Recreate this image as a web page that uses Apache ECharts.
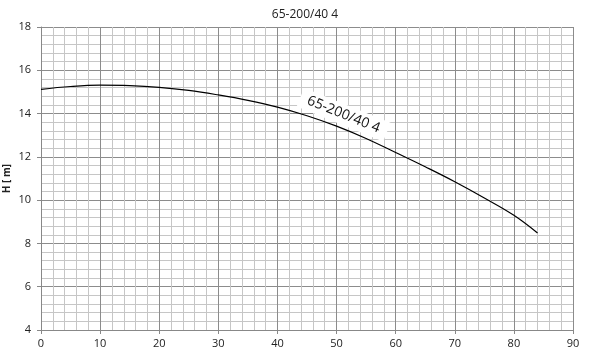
<!DOCTYPE html>
<html><head><meta charset="utf-8">
<script src="https://cdn.jsdelivr.net/npm/echarts@6/dist/echarts.min.js"></script>
<style>html,body{margin:0;padding:0;background:#fff}#c{width:591px;height:363px}</style>
</head><body><div id="c"></div>
<script>
var flowQ = [0, 5, 10, 15, 20, 25, 30, 35, 40, 45, 50, 55, 60, 65, 70, 75, 80, 84];
var headH = [15.12, 15.25, 15.31, 15.29, 15.21, 15.07, 14.86, 14.61, 14.3, 13.9, 13.42, 12.85, 12.2, 11.54, 10.85, 10.1, 9.3, 8.48];
var curveName = '65-200/40 4';
var titleText = '65-200/40 4';
var labelAt = [51.2, 13.95];

var ff = '"Open Sans", "Liberation Sans", sans-serif';
var chart = echarts.init(document.getElementById('c'), null, {renderer: 'canvas'});
chart.setOption({
  animation: false,
  title: {text: titleText, left: 300, top: 4, textAlign: 'center',
    textStyle: {fontFamily: ff, fontSize: 12, fontWeight: 'normal', color: '#222'}},
  grid: {left: 41, right: 18, top: 27, bottom: 33, containLabel: false, outerBoundsMode: 'none'},
  xAxis: {type: 'value', min: 0, max: 90, interval: 10,
    axisLine: {onZero: false, lineStyle: {color: '#888'}},
    axisTick: {show: true, length: 4, lineStyle: {color: '#888'}},
    axisLabel: {fontFamily: ff, fontSize: 11, color: '#222', margin: 8},
    splitLine: {show: true, lineStyle: {color: '#8c8c8c', width: 1}},
    minorTick: {show: false, splitNumber: 5},
    minorSplitLine: {show: true, lineStyle: {color: '#c6c6c6', width: 1}}
  },
  yAxis: {type: 'value', min: 4, max: 18, interval: 2,
    name: 'H [ m]', nameLocation: 'middle', nameGap: 29, nameMoveOverlap: false,
    nameTextStyle: {fontFamily: ff, fontSize: 10, fontWeight: 'bold', color: '#222'},
    axisLine: {show: true, lineStyle: {color: '#888'}},
    axisTick: {show: true, length: 4, lineStyle: {color: '#888'}},
    axisLabel: {fontFamily: ff, fontSize: 11, color: '#222', margin: 10},
    splitLine: {show: true, lineStyle: {color: '#8c8c8c', width: 1}},
    minorTick: {show: false, splitNumber: 5},
    minorSplitLine: {show: true, lineStyle: {color: '#c6c6c6', width: 1}}
  },
  series: [{
    type: 'line', name: curveName, smooth: 0.4, symbol: 'none',
    lineStyle: {color: '#000', width: 1.2},
    data: flowQ.map(function (q, i) { return [q, headH[i]]; }),
    markPoint: {
      symbol: 'rect', symbolSize: 1, itemStyle: {color: 'rgba(0,0,0,0)'},
      data: [{coord: labelAt, value: curveName}],
      label: {show: true, position: 'inside', formatter: curveName, rotate: -22,
        fontFamily: ff, fontSize: 14, color: '#111', backgroundColor: '#fff',
        padding: [3, 8]}
    }
  }]
});
</script></body></html>
